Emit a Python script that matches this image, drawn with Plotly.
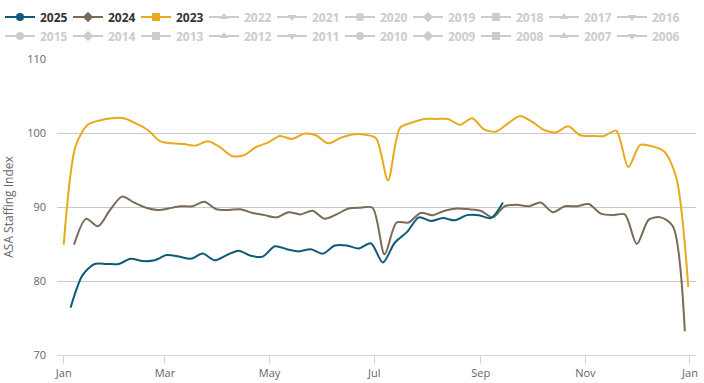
import pandas as pd
import plotly.graph_objects as go

# ---- data (weekly ASA Staffing Index) ----
start_2025 = "2025-01-05"
values_2025 = [76.4, 80.8, 82.3, 82.3, 82.3, 83.0, 82.7, 82.8, 83.5, 83.3,
               83.0, 83.7, 82.8, 83.5, 84.1, 83.4, 83.3, 84.7, 84.3, 84.0,
               84.3, 83.7, 84.8, 84.8, 84.4, 85.1, 82.5, 85.2, 86.6, 88.6,
               88.1, 88.5, 88.2, 88.9, 88.9, 88.5, 90.6]

start_2024 = "2024-01-07"
values_2024 = [84.9, 88.4, 87.4, 89.6, 91.4, 90.6, 89.9, 89.6, 89.8, 90.1,
               90.1, 90.7, 89.7, 89.6, 89.7, 89.2, 88.9, 88.6, 89.3, 89.0,
               89.5, 88.4, 89.0, 89.8, 89.9, 89.9, 83.6, 87.9, 87.9, 89.2,
               88.9, 89.5, 89.8, 89.7, 89.5, 88.6, 90.1, 90.3, 90.1, 90.6,
               89.3, 90.1, 90.1, 90.4, 89.1, 88.9, 89.0, 85.0, 88.3, 88.6,
               87.4, 73.2]

start_2023 = "2023-01-01"
values_2023 = [84.9, 98.3, 101.1, 101.7, 102.0, 102.0, 101.3, 100.4, 98.9, 98.6,
               98.5, 98.3, 98.9, 98.1, 96.9, 97.0, 98.1, 98.7, 99.6, 99.2,
               99.9, 99.7, 98.6, 99.3, 99.8, 99.8, 99.3, 93.6, 100.7, 101.4,
               101.9, 101.9, 101.9, 101.1, 102.0, 100.5, 100.2, 101.3, 102.3, 101.5,
               100.4, 100.1, 100.9, 99.7, 99.6, 99.6, 100.3, 95.4, 98.4, 98.2,
               97.5, 94.0, 79.2]

legend_years = ["2025", "2024", "2023", "2022", "2021", "2020", "2019", "2018", "2017", "2016",
                "2015", "2014", "2013", "2012", "2011", "2010", "2009", "2008", "2007", "2006"]
shown_years = ["2025", "2024", "2023"]

x_ticks_start = "2023-01-01"
y_title = "ASA Staffing Index"

# ---- styling ----
DISPLAY_YEAR = 2023
colors = {"2025": "#0e5b78", "2024": "#7a6a58", "2023": "#e8a91c"}
hidden_color = "#cccccc"
symbols = ["circle", "diamond", "square", "triangle-up", "triangle-down"]
FONT = "Open Sans, Segoe UI, sans-serif"
W, H = 704, 383
ML, MR, MT, MB = 57, 8, 59, 28


def to_display(start, n):
    d = pd.date_range(start, periods=n, freq="7D")
    return [t.replace(year=DISPLAY_YEAR) for t in d]


series = {
    "2025": (start_2025, values_2025),
    "2024": (start_2024, values_2024),
    "2023": (start_2023, values_2023),
}

fig = go.Figure()

# legend entries (Highcharts-like: line + marker symbol)
for i, yr in enumerate(legend_years):
    col = colors.get(yr, hidden_color)
    txtcol = "#333333" if yr in shown_years else hidden_color
    fig.add_trace(go.Scatter(
        x=[None], y=[None], mode="lines+markers",
        name=f'<span style="color:{txtcol}"><b>{yr}</b></span>',
        line=dict(color=col, width=2),
        marker=dict(symbol=symbols[i % 5], size=8, color=col),
        showlegend=True, hoverinfo="skip",
    ))

# data lines
for yr in ["2023", "2024", "2025"]:
    start, vals = series[yr]
    fig.add_trace(go.Scatter(
        x=to_display(start, len(vals)), y=vals, mode="lines",
        line=dict(color=colors[yr], width=2, shape="spline", smoothing=0.8),
        name=yr, showlegend=False,
    ))

plot_w = W - ML - MR
plot_h = H - MT - MB
legend_top_px = 2.5
legend_left_px = 0

fig.update_layout(
    width=W, height=H,
    margin=dict(l=ML, r=MR, t=MT, b=MB, autoexpand=False),
    paper_bgcolor="white", plot_bgcolor="white",
    font=dict(family=FONT, color="#666666", size=11),
    legend=dict(
        orientation="h", xref="paper", yref="paper",
        x=(legend_left_px - ML) / plot_w,
        y=(H - MB - legend_top_px) / plot_h,
        xanchor="left", yanchor="top",
        entrywidth=23, font=dict(size=12, color="#333333", family=FONT),
        bgcolor="rgba(0,0,0,0)", itemclick=False, itemdoubleclick=False,
    ),
    showlegend=True,
)

fig.update_xaxes(
    type="date",
    range=["2022-12-28 02:00", "2024-01-04 12:00"],
    tick0=x_ticks_start, dtick="M2", tickformat="%b",
    showgrid=False, showline=True, linecolor="#ccd6eb", linewidth=1,
    ticks="outside", ticklen=8, tickcolor="#ccd6eb",
    tickfont=dict(size=11, color="#666666"), zeroline=False,
    ticklabeloverflow="allow",
)
fig.update_yaxes(
    range=[70, 110], dtick=10,
    showgrid=True, gridcolor="#c8c8c8", gridwidth=1, zeroline=False,
    showline=False, ticks="", ticklabelstandoff=10,
    tickfont=dict(size=11, color="#666666"),
    title=dict(text=y_title, font=dict(size=12, color="#666666"), standoff=12),
)

fig.write_html("out.html", config={"displayModeBar": False},
               post_script="document.body.style.margin='0';")
